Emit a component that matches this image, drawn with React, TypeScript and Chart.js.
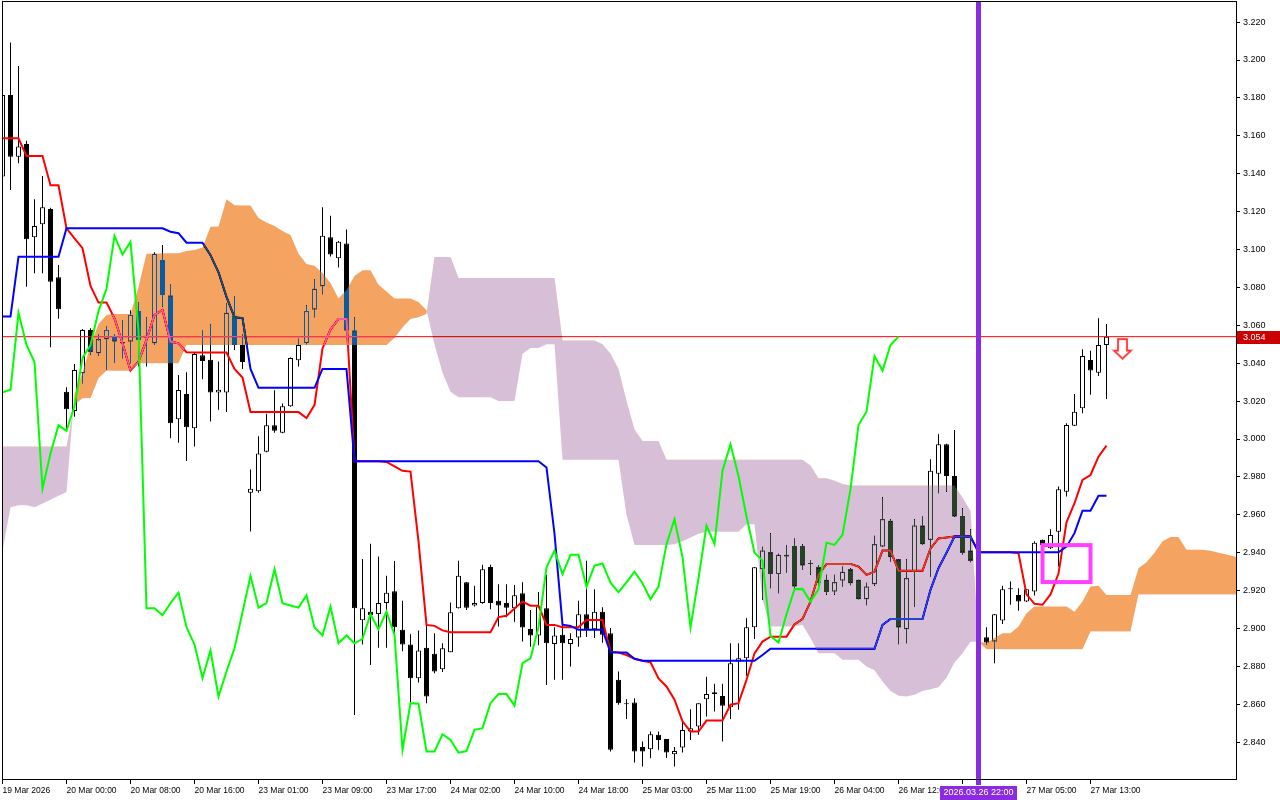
import React, { useEffect, useRef } from "react";
import { Chart, registerables } from "chart.js";

// ---------- price data (hourly bars, index 0 = first visible bar) ----------
const opens = [
  3.1385, 3.1815, 3.1490, 3.1557, 3.1065, 3.1133, 3.1214, 3.0854, 3.0249, 3.0148,
  3.0347, 3.0575, 3.0453, 3.0526, 3.0544, 3.0505, 3.0514, 3.0676, 3.0535, 3.0505,
  3.0944, 3.0757, 3.0104, 3.0238, 3.0057, 3.0442, 3.0418, 3.0246, 3.0246, 3.0651,
  3.0496, 2.9716, 2.9724, 2.9933, 3.0073, 3.0033, 3.0173, 3.0415, 3.0506, 3.0684,
  3.0806, 3.1065, 3.0954, 3.1032, 3.0573, 2.9043, 2.9089, 2.9076, 2.9134, 2.9197,
  2.8993, 2.8915, 2.8738, 2.8899, 2.8867, 2.8785, 2.8875, 2.9107, 2.9244, 2.9121,
  2.9134, 2.9325, 2.9146, 2.9134, 2.9107, 2.9186, 2.8998, 2.8963, 2.9107, 2.8918,
  2.8967, 2.8918, 2.8952, 2.9075, 2.8996, 2.9089, 2.8975, 2.8729, 2.8600, 2.8609,
  2.8375, 2.8363, 2.8439, 2.8417, 2.8336, 2.8372, 2.8456, 2.8483, 2.8627, 2.8664,
  2.8644, 2.8585, 2.8826, 2.8843, 2.9007, 2.9313, 2.9403, 2.9287, 2.9380, 2.9436,
  2.9436, 2.9341, 2.9323, 2.9257, 2.9195, 2.9253, 2.9313, 2.9257, 2.9155, 2.9234,
  2.9433, 2.9568, 2.9366, 2.8996, 2.9300, 2.9543, 2.9468, 2.9816, 2.9972, 2.9805,
  2.9594, 2.9411, 2.9358, 2.8954, 2.8931, 2.9042, 2.9207, 2.9177, 2.9142, 2.9195,
  2.9468, 2.9424, 2.9511, 2.9722, 3.0070, 3.0162, 3.0417, 3.0350, 3.0496,
];
const highs = [
  3.1860, 3.2093, 3.1968, 3.1574, 3.1265, 3.1388, 3.1220, 3.0918, 3.0273, 3.0396,
  3.0580, 3.0585, 3.0554, 3.0596, 3.0554, 3.0628, 3.0680, 3.0720, 3.0643, 3.0985,
  3.1024, 3.0818, 3.0338, 3.0352, 3.0455, 3.0575, 3.0606, 3.0409, 3.0715, 3.0754,
  3.0551, 2.9839, 3.0015, 3.0133, 3.0257, 3.0188, 3.0430, 3.0529, 3.0706, 3.0842,
  3.1223, 3.1178, 3.1045, 3.1105, 3.0642, 2.9367, 2.9447, 2.9380, 2.9279, 2.9356,
  2.9147, 2.8970, 2.8990, 2.9019, 2.8975, 2.8922, 2.9137, 2.9357, 2.9245, 2.9225,
  2.9336, 2.9336, 2.9233, 2.9233, 2.9229, 2.9244, 2.9098, 2.9193, 2.9283, 2.9007,
  2.9045, 2.8975, 2.9146, 2.9358, 2.9207, 2.9112, 2.9002, 2.8773, 2.8627, 2.8632,
  2.8404, 2.8456, 2.8456, 2.8417, 2.8375, 2.8509, 2.8574, 2.8606, 2.8746, 2.8708,
  2.8708, 2.8922, 2.8922, 2.9054, 2.9325, 2.9432, 2.9502, 2.9395, 2.9441, 2.9475,
  2.9445, 2.9359, 2.9335, 2.9283, 2.9283, 2.9327, 2.9318, 2.9257, 2.9242, 2.9489,
  2.9693, 2.9577, 2.9366, 2.9366, 2.9577, 2.9591, 2.9893, 3.0025, 2.9975, 3.0048,
  2.9635, 2.9524, 2.9380, 2.9007, 2.9077, 2.9225, 2.9248, 2.9212, 2.9207, 2.9460,
  2.9470, 2.9524, 2.9749, 3.0083, 3.0238, 3.0474, 3.0466, 3.0637, 3.0607,
];
const lows = [
  3.1350, 3.1314, 3.1455, 3.0804, 3.0875, 3.0875, 3.0484, 3.0635, 3.0047, 3.0118,
  3.0294, 3.0444, 3.0440, 3.0364, 3.0401, 3.0426, 3.0400, 3.0382, 3.0382, 3.0496,
  3.0698, 3.0004, 2.9980, 2.9884, 2.9960, 3.0315, 3.0093, 3.0155, 3.0142, 3.0470,
  3.0370, 2.9512, 2.9716, 2.9930, 3.0033, 3.0030, 3.0170, 3.0382, 3.0500, 3.0642,
  3.0764, 3.0963, 3.0905, 3.0533, 2.8544, 2.8916, 2.8807, 2.8898, 2.8898, 2.8970,
  2.8880, 2.8607, 2.8715, 2.8606, 2.8764, 2.8770, 2.8875, 2.9105, 2.9098, 2.9116,
  2.9130, 2.9102, 2.9010, 2.9060, 2.9036, 2.8931, 2.8904, 2.8912, 2.8702, 2.8729,
  2.8729, 2.8800, 2.8904, 2.8955, 2.8950, 2.8925, 2.8351, 2.8597, 2.8522, 2.8293,
  2.8272, 2.8315, 2.8360, 2.8316, 2.8272, 2.8345, 2.8412, 2.8439, 2.8535, 2.8562,
  2.8404, 2.8523, 2.8571, 2.8751, 2.8944, 2.9150, 2.9212, 2.9186, 2.9295, 2.9204,
  2.9309, 2.9283, 2.9220, 2.9178, 2.9178, 2.9221, 2.9228, 2.9155, 2.9123, 2.9225,
  2.9433, 2.9353, 2.8917, 2.8922, 2.9113, 2.9440, 2.9274, 2.9714, 2.9722, 2.9590,
  2.9390, 2.9350, 2.8900, 2.8913, 2.8817, 2.9024, 2.9125, 2.9094, 2.9140, 2.9174,
  2.9415, 2.9420, 2.9327, 2.9696, 3.0068, 3.0136, 3.0233, 3.0333, 3.0211,
];
const closes = [
  3.1815, 3.1490, 3.1543, 3.1054, 3.1124, 3.1223, 3.0830, 3.0685, 3.0157, 3.0364,
  3.0575, 3.0461, 3.0526, 3.0575, 3.0514, 3.0508, 3.0655, 3.0523, 3.0545, 3.0977,
  3.0760, 3.0083, 3.0259, 3.0062, 3.0449, 3.0411, 3.0246, 3.0260, 3.0666, 3.0496,
  3.0406, 2.9737, 2.9924, 3.0073, 3.0043, 3.0173, 3.0428, 3.0496, 3.0675, 3.0793,
  3.1072, 3.0973, 3.1041, 3.0573, 2.9107, 2.9107, 2.9070, 2.9134, 2.9189, 2.9007,
  2.8915, 2.8738, 2.8884, 2.8641, 2.8773, 2.8896, 2.9086, 2.9278, 2.9110, 2.9134,
  2.9313, 2.9134, 2.9121, 2.9110, 2.9176, 2.9005, 2.8963, 2.9116, 2.8922, 2.8963,
  2.8922, 2.8945, 2.9075, 2.8996, 2.9089, 2.8967, 2.8360, 2.8606, 2.8603, 2.8351,
  2.8351, 2.8442, 2.8412, 2.8345, 2.8353, 2.8465, 2.8474, 2.8606, 2.8654, 2.8654,
  2.8593, 2.8817, 2.8843, 2.9007, 2.9323, 2.9411, 2.9287, 2.9389, 2.9389, 2.9221,
  2.9332, 2.9343, 2.9242, 2.9192, 2.9244, 2.9300, 2.9239, 2.9155, 2.9221, 2.9445,
  2.9577, 2.9376, 2.9005, 2.9265, 2.9543, 2.9445, 2.9833, 2.9972, 2.9805, 2.9591,
  2.9400, 2.9358, 2.8960, 2.8926, 2.9075, 2.9207, 2.9209, 2.9142, 2.9207, 2.9453,
  2.9441, 2.9494, 2.9735, 3.0074, 3.0144, 3.0438, 3.0361, 3.0496, 3.0540,
];

// ---------- Ichimoku lines ----------
const tenkan = [
  3.1587, 3.1587, 3.1587, 3.1493, 3.1493, 3.1493, 3.1339, 3.1339, 3.1112, 3.1059,
  3.1007, 3.0808, 3.0720, 3.0720, 3.0637, 3.0505, 3.0361, 3.0408, 3.0523, 3.0655,
  3.0681, 3.0514, 3.0505, 3.0458, 3.0456, 3.0456, 3.0456, 3.0456, 3.0456, 3.0370,
  3.0324, 3.0142, 3.0142, 3.0142, 3.0142, 3.0142, 3.0142, 3.0142, 3.0111, 3.0179,
  3.0478, 3.0578, 3.0633, 3.0633, 2.9883, 2.9883, 2.9883, 2.9883, 2.9879, 2.9855,
  2.9832, 2.9828, 2.9460, 2.9019, 2.9014, 2.8990, 2.8980, 2.8980, 2.8980, 2.8980,
  2.8980, 2.8980, 2.9060, 2.9067, 2.9105, 2.9142, 2.9120, 2.9120, 2.9019, 2.9019,
  2.9007, 2.9007, 2.9007, 2.9045, 2.9045, 2.9045, 2.8878, 2.8873, 2.8860, 2.8840,
  2.8830, 2.8822, 2.8736, 2.8694, 2.8624, 2.8510, 2.8456, 2.8456, 2.8514, 2.8514,
  2.8514, 2.8598, 2.8606, 2.8729, 2.8869, 2.8931, 2.8957, 2.8957, 2.8957, 2.9022,
  2.9050, 2.9142, 2.9283, 2.9341, 2.9341, 2.9341, 2.9341, 2.9327, 2.9283, 2.9300,
  2.9411, 2.9411, 2.9305, 2.9305, 2.9305, 2.9305, 2.9422, 2.9475, 2.9480, 2.9485,
  2.9485, 2.9485, 2.9402, 2.9402, 2.9402, 2.9402, 2.9402, 2.9397, 2.9180, 2.9130,
  2.9125, 2.9180, 2.9290, 2.9560, 2.9661, 2.9784, 2.9810, 2.9907, 2.9965,
];
const kijun = [
  3.0646, 3.0646, 3.0962, 3.0962, 3.0962, 3.0962, 3.0962, 3.0962, 3.1112, 3.1112,
  3.1112, 3.1112, 3.1112, 3.1112, 3.1112, 3.1112, 3.1112, 3.1112, 3.1112, 3.1112,
  3.1112, 3.1094, 3.1086, 3.1036, 3.1036, 3.1036, 3.0970, 3.0880, 3.0750, 3.0642,
  3.0638, 3.0370, 3.0270, 3.0270, 3.0270, 3.0270, 3.0270, 3.0270, 3.0270, 3.0270,
  3.0370, 3.0370, 3.0370, 3.0370, 2.9883, 2.9883, 2.9883, 2.9883, 2.9883, 2.9883,
  2.9883, 2.9883, 2.9883, 2.9883, 2.9883, 2.9883, 2.9883, 2.9883, 2.9883, 2.9883,
  2.9883, 2.9883, 2.9883, 2.9883, 2.9883, 2.9883, 2.9883, 2.9883, 2.9850, 2.9500,
  2.9020, 2.9014, 2.8993, 2.8993, 2.8993, 2.8993, 2.8873, 2.8873, 2.8873, 2.8840,
  2.8830, 2.8830, 2.8830, 2.8830, 2.8830, 2.8830, 2.8830, 2.8830, 2.8830, 2.8830,
  2.8830, 2.8830, 2.8830, 2.8830, 2.8830, 2.8860, 2.8893, 2.8893, 2.8893, 2.8893,
  2.8893, 2.8893, 2.8893, 2.8893, 2.8893, 2.8893, 2.8893, 2.8893, 2.8893, 2.8893,
  2.9019, 2.9050, 2.9050, 2.9050, 2.9050, 2.9050, 2.9204, 2.9318, 2.9400, 2.9485,
  2.9485, 2.9485, 2.9402, 2.9402, 2.9402, 2.9402, 2.9402, 2.9402, 2.9402, 2.9402,
  2.9402, 2.9402, 2.9402, 2.9432, 2.9503, 2.9622, 2.9622, 2.9700, 2.9700,
];
// cloud (already shifted forward, extends past the last bar)
const spanA = [
  2.941, 2.964, 2.965, 2.965, 2.964, 2.966, 2.968, 2.970, 2.972, 3.024,
  3.035, 3.0496, 3.0607, 3.0654, 3.0660, 3.0660, 3.0660, 3.0802, 3.0977, 3.0977,
  3.0980, 3.0980, 3.0980, 3.0992, 3.0997, 3.1010, 3.1120, 3.1122, 3.1265, 3.1233,
  3.1232, 3.1232, 3.1166, 3.1142, 3.1124, 3.1098, 3.1077, 3.0977, 3.0924, 3.0914,
  3.0876, 3.0823, 3.0742, 3.0786, 3.0860, 3.0891, 3.0891, 3.0814, 3.0778, 3.0742,
  3.0742, 3.0742, 3.0723, 3.0680, 3.050, 3.035, 3.025, 3.022, 3.022, 3.022,
  3.022, 3.022, 3.020, 3.020, 3.020, 3.045, 3.048, 3.048, 3.050, 3.050,
  2.989, 2.989, 2.989, 2.989, 2.989, 2.989, 2.989, 2.989, 2.960, 2.944,
  2.944, 2.944, 2.944, 2.944, 2.9445, 2.946, 2.948, 2.950, 2.951, 2.951,
  2.951, 2.951, 2.951, 2.955, 2.955, 2.915, 2.901, 2.901, 2.901, 2.901,
  2.902, 2.895, 2.887, 2.887, 2.887, 2.8835, 2.8835, 2.8835, 2.880, 2.878,
  2.872, 2.867, 2.8645, 2.8641, 2.865, 2.867, 2.868, 2.869, 2.874, 2.882,
  2.887, 2.893, 2.893, 2.8923, 2.8950, 2.8975, 2.8975, 2.9010, 2.9080, 2.9116,
  2.9116, 2.9116, 2.9116, 2.9116, 2.9089, 2.9142, 2.9222, 2.9225, 2.9177, 2.9177,
  2.9177, 2.9177, 2.9318, 2.9350, 2.9400, 2.9460, 2.9483, 2.9483, 2.9415, 2.9415,
  2.9415, 2.9410, 2.9400, 2.9390, 2.9380, 2.9375,
];
const spanB = [
  2.996, 2.996, 2.996, 2.996, 2.996, 2.996, 2.996, 2.996, 2.996, 3.018,
  3.0215, 3.0215, 3.032, 3.036, 3.036, 3.036, 3.036, 3.040, 3.040, 3.040,
  3.040, 3.040, 3.040, 3.0496, 3.0496, 3.0496, 3.0496, 3.0496, 3.0496, 3.0496,
  3.0496, 3.0496, 3.0496, 3.0496, 3.0496, 3.0496, 3.0496, 3.0496, 3.0496, 3.0496,
  3.0496, 3.0496, 3.0496, 3.0496, 3.0496, 3.0496, 3.0496, 3.0496, 3.0496, 3.0533,
  3.0588, 3.0633, 3.0642, 3.0660, 3.096, 3.096, 3.096, 3.085, 3.085, 3.085,
  3.085, 3.085, 3.085, 3.085, 3.085, 3.085, 3.085, 3.085, 3.085, 3.085,
  3.052, 3.052, 3.052, 3.052, 3.052, 3.050, 3.045, 3.037, 3.020, 3.005,
  2.999, 2.999, 2.999, 2.989, 2.989, 2.989, 2.989, 2.989, 2.989, 2.989,
  2.989, 2.989, 2.989, 2.989, 2.989, 2.989, 2.989, 2.989, 2.989, 2.989,
  2.989, 2.986, 2.9793, 2.9793, 2.978, 2.9762, 2.9754, 2.9754, 2.9754, 2.9754,
  2.9754, 2.9754, 2.9754, 2.9754, 2.9754, 2.9754, 2.9754, 2.9754, 2.9754, 2.9754,
  2.969, 2.962, 2.893, 2.8891, 2.8891, 2.8891, 2.8891, 2.8891, 2.8891, 2.8891,
  2.8891, 2.8891, 2.8891, 2.8891, 2.8891, 2.8891, 2.8984, 2.8984, 2.8984, 2.8984,
  2.8984, 2.8984, 2.918, 2.918, 2.918, 2.918, 2.918, 2.918, 2.918, 2.918,
  2.918, 2.918, 2.918, 2.918, 2.918, 2.918,
];
const CHIKOU_SHIFT = 26; // Chikou Span = close plotted 26 bars back

// ---------- axes ----------
const xTickIndex = [0, 8, 16, 24, 32, 40, 48, 56, 64, 72, 80, 88, 96, 104, 112, 120, 128, 136];
const xTickLabels = [
  "19 Mar 2026", "20 Mar 00:00", "20 Mar 08:00", "20 Mar 16:00", "23 Mar 01:00",
  "23 Mar 09:00", "23 Mar 17:00", "24 Mar 02:00", "24 Mar 10:00", "24 Mar 18:00",
  "25 Mar 03:00", "25 Mar 11:00", "25 Mar 19:00", "26 Mar 04:00", "26 Mar 12:00",
  "26 Mar 20:00", "27 Mar 05:00", "27 Mar 13:00",
];
const yTickValues = [
  2.84, 2.86, 2.88, 2.9, 2.92, 2.94, 2.96, 2.98, 3.0, 3.02,
  3.04, 3.06, 3.08, 3.1, 3.12, 3.14, 3.16, 3.18, 3.2, 3.22,
];
const X_MIN = -0.0625;
const X_MAX = 154.1875;
const Y_MIN = 2.82058;
const Y_MAX = 3.23061;

// ---------- chart objects ----------
const bidPrice = 3.054;
const markerBar = 122;
const markerLabel = "2026.03.26 22:00";
const boxFrom = 130;
const boxTo = 136;
const boxTop = 2.944;
const boxBottom = 2.9245;
const arrowBar = 140;
const arrowTop = 3.0527;

const FONT = "'Liberation Sans', Arial, sans-serif";
const SANDY_DIFF = "rgb(11,91,159)"; // difference-blended -> SandyBrown on white
const THISTLE_DIFF = "rgb(39,64,39)"; // difference-blended -> Thistle on white

const cloudBlend = {
  id: "cloudBlend",
  beforeDatasetDraw(chart: any, args: any) {
    const ds = chart.data.datasets[args.index];
    if (ds && ds.isCloud) {
      chart.ctx.save();
      chart.ctx.globalCompositeOperation = "difference";
    }
  },
  afterDatasetDraw(chart: any, args: any) {
    const ds = chart.data.datasets[args.index];
    if (ds && ds.isCloud) chart.ctx.restore();
  },
};
Chart.register(cloudBlend);
Chart.register(...registerables);

const whiteBg = {
  id: "whiteBg",
  beforeDraw(chart: any) {
    const { ctx, width, height } = chart;
    ctx.save();
    ctx.fillStyle = "#ffffff";
    ctx.fillRect(0, 0, width, height);
    ctx.restore();
  },
};

const overlay = {
  id: "overlay",
  afterDatasetsDraw(chart: any) {
    const { ctx, chartArea: a, scales } = chart;
    const x = scales.x;
    const y = scales.y;
    ctx.save();
    ctx.beginPath();
    ctx.rect(a.left, a.top, a.right - a.left, a.bottom - a.top);
    ctx.clip();
    // rectangle
    const rx0 = x.getPixelForValue(boxFrom);
    const rx1 = x.getPixelForValue(boxTo);
    const ry0 = y.getPixelForValue(boxTop);
    const ry1 = y.getPixelForValue(boxBottom);
    ctx.strokeStyle = "rgb(255,64,255)";
    ctx.lineWidth = 4;
    ctx.strokeRect(rx0, ry0, rx1 - rx0, ry1 - ry0);
    // down arrow
    const cx = x.getPixelForValue(arrowBar);
    const ty = y.getPixelForValue(arrowTop);
    ctx.beginPath();
    ctx.moveTo(cx - 4.5, ty);
    ctx.lineTo(cx + 4.5, ty);
    ctx.lineTo(cx + 4.5, ty + 11.5);
    ctx.lineTo(cx + 8.5, ty + 11.5);
    ctx.lineTo(cx, ty + 19.5);
    ctx.lineTo(cx - 8.5, ty + 11.5);
    ctx.lineTo(cx - 4.5, ty + 11.5);
    ctx.closePath();
    ctx.fillStyle = "#ffffff";
    ctx.fill();
    ctx.strokeStyle = "rgb(255,120,120)";
    ctx.lineWidth = 2.2;
    ctx.stroke();
    ctx.strokeStyle = "rgb(255,30,30)";
    ctx.lineWidth = 1;
    ctx.stroke();
    ctx.restore();
    // vertical line
    const vx = x.getPixelForValue(markerBar);
    ctx.save();
    ctx.fillStyle = "rgb(138,43,226)";
    ctx.fillRect(Math.round(vx - 2.5), a.top, 5, a.bottom - a.top + 6);
    ctx.restore();
  },
  afterDraw(chart: any) {
    const { ctx, chartArea: a, scales, width, height } = chart;
    const x = scales.x;
    const y = scales.y;
    ctx.save();
    // frame
    ctx.strokeStyle = "#000";
    ctx.lineWidth = 1;
    ctx.strokeRect(a.left + 0.5, a.top - 0.5, a.right - a.left, a.bottom - a.top + 1);
    // bid price label
    const py = Math.round(y.getPixelForValue(bidPrice));
    ctx.fillStyle = "rgb(204,0,0)";
    ctx.fillRect(a.right + 1, py - 6, width - a.right - 1, 13);
    ctx.fillStyle = "#fff";
    ctx.font = `9px ${FONT}`;
    ctx.textAlign = "left";
    ctx.textBaseline = "middle";
    ctx.fillText(bidPrice.toFixed(3), a.right + 7, py + 0.5);
    // time label of vertical line
    const vx = x.getPixelForValue(markerBar);
    ctx.fillStyle = "rgb(138,43,226)";
    ctx.fillRect(Math.round(vx - 38.5), a.bottom + 7, 77, height - a.bottom - 7);
    ctx.fillStyle = "#fff";
    ctx.textAlign = "center";
    ctx.fillText(markerLabel, vx, a.bottom + 14);
    ctx.restore();
  },
};

const idx = opens.map((_, i) => i);
const wickData = idx.map((i) => ({ x: i, y: [lows[i], highs[i]] }));
const bodyData = idx.map((i) => ({ x: i, y: [opens[i], closes[i]] }));
const bodyColors = idx.map((i) => (closes[i] >= opens[i] ? "#ffffff" : "#000000"));
const tenkanData = tenkan.map((v, i) => ({ x: i, y: v }));
const kijunData = kijun.map((v, i) => ({ x: i, y: v }));
const spanAData = spanA.map((v, i) => ({ x: i, y: v }));
const spanBData = spanB.map((v, i) => ({ x: i, y: v }));
const chikouData = closes.slice(CHIKOU_SHIFT).map((v, i) => ({ x: i, y: v }));
const bidLineData = [
  { x: X_MIN - 1, y: bidPrice },
  { x: X_MAX + 1, y: bidPrice },
];

export default function App() {
  const ref = useRef<HTMLCanvasElement>(null);
  useEffect(() => {
    if (!ref.current) return;
    const lineBase = { type: "line", pointRadius: 0, pointHoverRadius: 0, tension: 0, fill: false };
    const chart = new Chart(ref.current, {
      type: "line",
      data: {
        datasets: [
          {
            type: "bar",
            label: "wicks",
            data: wickData,
            backgroundColor: "#000",
            borderWidth: 0,
            barThickness: 1,
            grouped: false,
            inflateAmount: 0,
            order: 10,
          },
          {
            type: "bar",
            label: "bodies",
            data: bodyData,
            backgroundColor: bodyColors,
            borderColor: "#000",
            borderWidth: 1,
            borderSkipped: false,
            barThickness: 5,
            grouped: false,
            minBarLength: 1,
            inflateAmount: 0,
            order: 9,
          },
          { ...lineBase, label: "bid", data: bidLineData, borderColor: "rgb(255,0,0)", borderWidth: 1, order: 8 },
          { ...lineBase, label: "Tenkan-sen", data: tenkanData, borderColor: "rgb(255,0,0)", borderWidth: 2, order: 7 },
          { ...lineBase, label: "Kijun-sen", data: kijunData, borderColor: "rgb(0,0,255)", borderWidth: 2, order: 6 },
          {
            ...lineBase,
            label: "Senkou Span A",
            data: spanAData,
            isCloud: true,
            borderColor: "rgba(0,0,0,0)",
            borderWidth: 0,
            fill: { target: "+1", above: SANDY_DIFF, below: THISTLE_DIFF },
            order: 5,
          },
          {
            ...lineBase,
            label: "Senkou Span B",
            data: spanBData,
            borderColor: "rgba(0,0,0,0)",
            borderWidth: 0,
            order: 5,
          },
          { ...lineBase, label: "Chikou Span", data: chikouData, borderColor: "rgb(0,255,0)", borderWidth: 2, order: 4 },
        ],
      } as any,
      options: {
        responsive: false,
        maintainAspectRatio: false,
        animation: false,
        devicePixelRatio: 1,
        events: [],
        layout: { padding: { left: 2, top: 2, right: 0, bottom: 0 } },
        plugins: {
          legend: { display: false },
          tooltip: { enabled: false },
          title: { display: false },
        },
        scales: {
          x: {
            type: "linear",
            min: X_MIN,
            max: X_MAX,
            bounds: "data",
            offset: false,
            grid: {
              display: true,
              drawOnChartArea: false,
              drawTicks: true,
              tickLength: 5,
              color: "#000",
              offset: false,
            },
            border: { display: false },
            afterBuildTicks: (s: any) => {
              s.ticks = xTickIndex.map((v) => ({ value: v }));
            },
            afterFit: (s: any) => {
              s.height = 21;
              s.paddingLeft = 0;
              s.paddingRight = 0;
              s.paddingTop = 0;
              s.paddingBottom = 0;
            },
            ticks: {
              autoSkip: false,
              maxRotation: 0,
              minRotation: 0,
              align: "start",
              padding: 2,
              color: "#000",
              font: { family: FONT, size: 8.5 },
              callback: (_v: any, i: number) => xTickLabels[i] ?? "",
            },
          },
          y: {
            type: "linear",
            position: "right",
            min: Y_MIN,
            max: Y_MAX,
            bounds: "data",
            beginAtZero: false,
            grid: {
              display: true,
              drawOnChartArea: false,
              drawTicks: true,
              tickLength: 4,
              color: "#000",
            },
            border: { display: false },
            afterBuildTicks: (s: any) => {
              s.ticks = yTickValues.map((v) => ({ value: v }));
            },
            afterFit: (s: any) => {
              s.width = 44;
              s.paddingTop = 0;
              s.paddingBottom = 0;
              s.paddingLeft = 0;
              s.paddingRight = 0;
            },
            ticks: {
              padding: 3,
              color: "#000",
              font: { family: FONT, size: 9 },
              callback: (v: any) => Number(v).toFixed(3),
            },
          },
        },
      } as any,
      plugins: [whiteBg, overlay],
    } as any);
    return () => chart.destroy();
  }, []);
  return (
    <div style={{ position: "fixed", left: 0, top: 0, width: 1280, height: 800, background: "#fff" }}>
      <canvas ref={ref} width={1280} height={800} style={{ display: "block", width: 1280, height: 800 }} />
    </div>
  );
}
